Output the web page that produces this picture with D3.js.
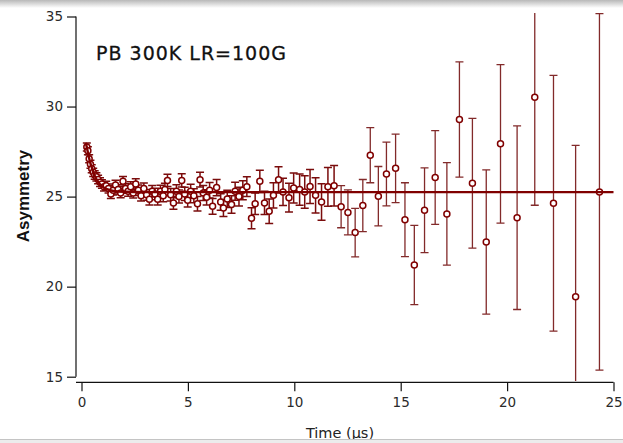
<!DOCTYPE html>
<html>
<head>
<meta charset="utf-8">
<script src="https://cdn.jsdelivr.net/npm/d3@7/dist/d3.min.js"></script>
<style>
  html, body { margin: 0; padding: 0; background: #fff; }
  svg { display: block; }
</style>
</head>
<body>
<div id="chart"></div>
<script>
;(function () {

    // measured points: time (us), asymmetry, error
    var times = [
        0.25, 0.30, 0.36, 0.42, 0.48, 0.55, 0.62, 0.70, 0.78, 0.87,
        0.96, 1.06, 1.16, 1.27, 1.38, 1.49, 1.60, 1.72, 1.84, 1.95,
        2.07, 2.19, 2.31, 2.43, 2.55, 2.67, 2.80, 2.93, 3.06, 3.19,
        3.32, 3.45, 3.58, 3.71, 3.84, 3.92, 4.04, 4.19, 4.32, 4.46,
        4.58, 4.71, 4.85, 4.99, 5.13, 5.28, 5.45, 5.57, 5.72, 5.88,
        6.02, 6.16, 6.35, 6.54, 6.67, 6.85, 7.05, 7.22, 7.40, 7.58,
        7.77, 7.99, 8.16, 8.38, 8.60, 8.82, 9.02, 9.26, 9.47, 9.75,
        9.97, 10.25, 10.49, 10.74, 11.00, 11.28, 11.58, 11.87, 12.20, 12.52,
        12.86, 13.22, 13.57, 13.95, 14.33, 14.76, 15.20, 15.64, 16.12, 16.62,
        17.17, 17.76, 18.37, 19.02, 19.69, 20.47, 21.30, 22.18, 23.22, 24.34
    ];
    var asymmetry = [
        27.75, 27.55, 27.10, 26.80, 26.55, 26.35, 26.20, 26.10, 25.95, 25.80,
        25.70, 25.55, 25.60, 25.45, 25.15, 25.35, 25.65, 25.40, 25.20, 25.85,
        25.45, 25.30, 25.55, 25.20, 25.70, 25.35, 25.05, 25.45, 25.10, 24.85,
        25.30, 25.15, 24.85, 25.30, 25.05, 25.40, 25.90, 25.10, 24.65, 25.30,
        25.00, 25.90, 25.15, 24.80, 25.30, 25.05, 24.60, 25.94, 25.20, 24.96,
        25.35, 24.46, 25.50, 24.70, 24.37, 24.87, 24.56, 25.30, 25.00, 25.35,
        25.55, 23.80, 24.60, 25.85, 24.65, 24.19, 25.07, 25.93, 25.26, 24.94,
        25.48, 25.39, 25.26, 25.56, 25.07, 24.70, 25.54, 25.60, 24.44, 24.12,
        23.00, 24.50, 27.30, 25.02, 26.26, 26.57, 23.72, 21.20, 24.24, 26.06,
        24.04, 29.28, 25.74, 22.48, 27.93, 23.83, 30.52, 24.63, 19.44, 25.26
    ];
    var errors = [
        0.22, 0.22, 0.22, 0.22, 0.22, 0.23, 0.23, 0.23, 0.23, 0.24,
        0.24, 0.24, 0.25, 0.25, 0.25, 0.26, 0.26, 0.26, 0.27, 0.27,
        0.27, 0.28, 0.28, 0.28, 0.29, 0.29, 0.29, 0.30, 0.30, 0.31,
        0.31, 0.32, 0.32, 0.33, 0.33, 0.34, 0.34, 0.35, 0.35, 0.36,
        0.36, 0.37, 0.37, 0.38, 0.39, 0.39, 0.40, 0.41, 0.41, 0.42,
        0.43, 0.44, 0.45, 0.46, 0.47, 0.48, 0.49, 0.50, 0.52, 0.53,
        0.55, 0.58, 0.60, 0.62, 0.65, 0.68, 0.70, 0.73, 0.76, 0.80,
        0.83, 0.87, 0.90, 0.94, 0.98, 1.02, 1.07, 1.12, 1.17, 1.25,
        1.35, 1.45, 1.53, 1.65, 1.77, 1.90, 2.05, 2.20, 2.35, 2.60,
        2.85, 3.20, 3.60, 4.00, 4.40, 5.10, 6.00, 7.10, 8.40, 9.90
    ];

    // fit curve
    var fitTimes = [0.19, 0.25, 0.30, 0.40, 0.50, 0.60, 0.70, 0.80, 0.90, 1.00, 1.20, 1.50, 2.00, 3.00, 25.0];
    var fitValues = [27.98, 27.75, 27.45, 26.93, 26.55, 26.22, 25.97, 25.79, 25.65, 25.54, 25.41, 25.31, 25.27, 25.25, 25.25];

    var xTicks = [0, 5, 10, 15, 20, 25];
    var yTicks = [15, 20, 25, 30, 35];

    var title = 'PB 300K LR=100G';
    var xLabel = 'Time (\u00b5s)';
    var yLabel = 'Asymmetry';

    var W = 623, H = 443;
    var red = '#800000';

    var x = d3.scaleLinear().domain([0, 25]).range([81.5, 613.5]);
    var y = d3.scaleLinear().domain([15, 35]).range([376.7, 16.5]);

    var points = times.map(function (t, i) {
        return { t: t, a: asymmetry[i], e: errors[i] };
    });
    var fit = fitTimes.map(function (t, i) { return { t: t, a: fitValues[i] }; });

    var svg = d3.select('#chart').append('svg')
        .attr('width', W)
        .attr('height', H);

    var defs = svg.append('defs');
    var grad = defs.append('linearGradient')
        .attr('id', 'topShade')
        .attr('x1', 0).attr('y1', 0).attr('x2', 0).attr('y2', 1);
    grad.append('stop').attr('offset', '0%').attr('stop-color', '#b8b8b8');
    grad.append('stop').attr('offset', '100%').attr('stop-color', '#ffffff');

    defs.append('clipPath').attr('id', 'plotClip')
        .append('rect')
        .attr('x', 76).attr('y', 13)
        .attr('width', W - 76).attr('height', 368);

    // axes
    var yAxis = d3.axisLeft(y).tickValues(yTicks).tickSize(9).tickPadding(4);
    var xAxis = d3.axisBottom(x).tickValues(xTicks).tickSize(9).tickPadding(6);

    var gy = svg.append('g')
        .attr('transform', 'translate(76,0)')
        .call(yAxis);
    gy.select('.domain').attr('d', 'M0,' + y(35) + 'V' + y(15));

    var gx = svg.append('g')
        .attr('transform', 'translate(0,382.3)')
        .call(xAxis);
    gx.select('.domain').attr('d', 'M76,0H' + x(25));

    svg.selectAll('.tick text')
        .attr('font-family', 'DejaVu Sans, sans-serif')
        .attr('font-size', 13.5)
        .attr('fill', '#2a2a2a');
    svg.selectAll('.domain, .tick line')
        .attr('stroke', '#111')
        .attr('stroke-width', 1.2);

    // data
    var plot = svg.append('g').attr('clip-path', 'url(#plotClip)');

    var bars = plot.append('g')
        .attr('fill', 'none');

    bars.selectAll('path')
        .data(points)
        .enter()
        .append('path')
        .attr('stroke', function (d) { return d.t < 12 ? '#7a0c0c' : '#822a2a'; })
        .attr('stroke-width', function (d) { return d.t < 12 ? 1.5 : 1.3; })
        .attr('d', function (d) {
            var cx = x(d.t), y0 = y(d.a + d.e), y1 = y(d.a - d.e);
            return 'M' + (cx - 4) + ',' + y0 + 'H' + (cx + 4) +
                   'M' + cx + ',' + y0 + 'V' + y1 +
                   'M' + (cx - 4) + ',' + y1 + 'H' + (cx + 4);
        });

    plot.append('g').selectAll('circle')
        .data(points)
        .enter()
        .append('circle')
        .attr('cx', function (d) { return x(d.t); })
        .attr('cy', function (d) { return y(d.a); })
        .attr('r', 3)
        .attr('fill', '#fff')
        .attr('stroke', red)
        .attr('stroke-width', 1.5);

    var line = d3.line()
        .x(function (d) { return x(d.t); })
        .y(function (d) { return y(d.a); })
        .curve(d3.curveMonotoneX);

    plot.append('path')
        .datum(fit)
        .attr('d', line)
        .attr('fill', 'none')
        .attr('stroke', red)
        .attr('stroke-width', 2.4);

    // texts
    svg.append('text')
        .attr('x', 96)
        .attr('y', 60)
        .attr('font-family', 'DejaVu Sans, sans-serif')
        .attr('font-size', 19)
        .attr('textLength', 190)
        .attr('lengthAdjust', 'spacing')
        .attr('fill', '#111')
        .attr('stroke', '#111')
        .attr('stroke-width', 0.3)
        .text(title);

    svg.append('text')
        .attr('transform', 'translate(29,196) rotate(-90)')
        .attr('text-anchor', 'middle')
        .attr('font-family', 'Liberation Sans, Arial, sans-serif')
        .attr('font-weight', 'bold')
        .attr('font-size', 17)
        .attr('fill', '#111')
        .text(yLabel);

    svg.append('text')
        .attr('x', 340)
        .attr('y', 438)
        .attr('text-anchor', 'middle')
        .attr('font-family', 'DejaVu Sans, sans-serif')
        .attr('font-size', 14.5)
        .attr('fill', '#222')
        .text(xLabel);

    // window edges
    svg.append('rect')
        .attr('x', 0).attr('y', 0)
        .attr('width', W).attr('height', 8)
        .attr('fill', 'url(#topShade)');

    svg.append('rect')
        .attr('x', 0).attr('y', 439)
        .attr('width', W).attr('height', 4)
        .attr('fill', '#ececec');
    svg.append('line')
        .attr('x1', 0).attr('x2', W)
        .attr('y1', 439.5).attr('y2', 439.5)
        .attr('stroke', '#c4c4c4');

})();
</script>
</body>
</html>
